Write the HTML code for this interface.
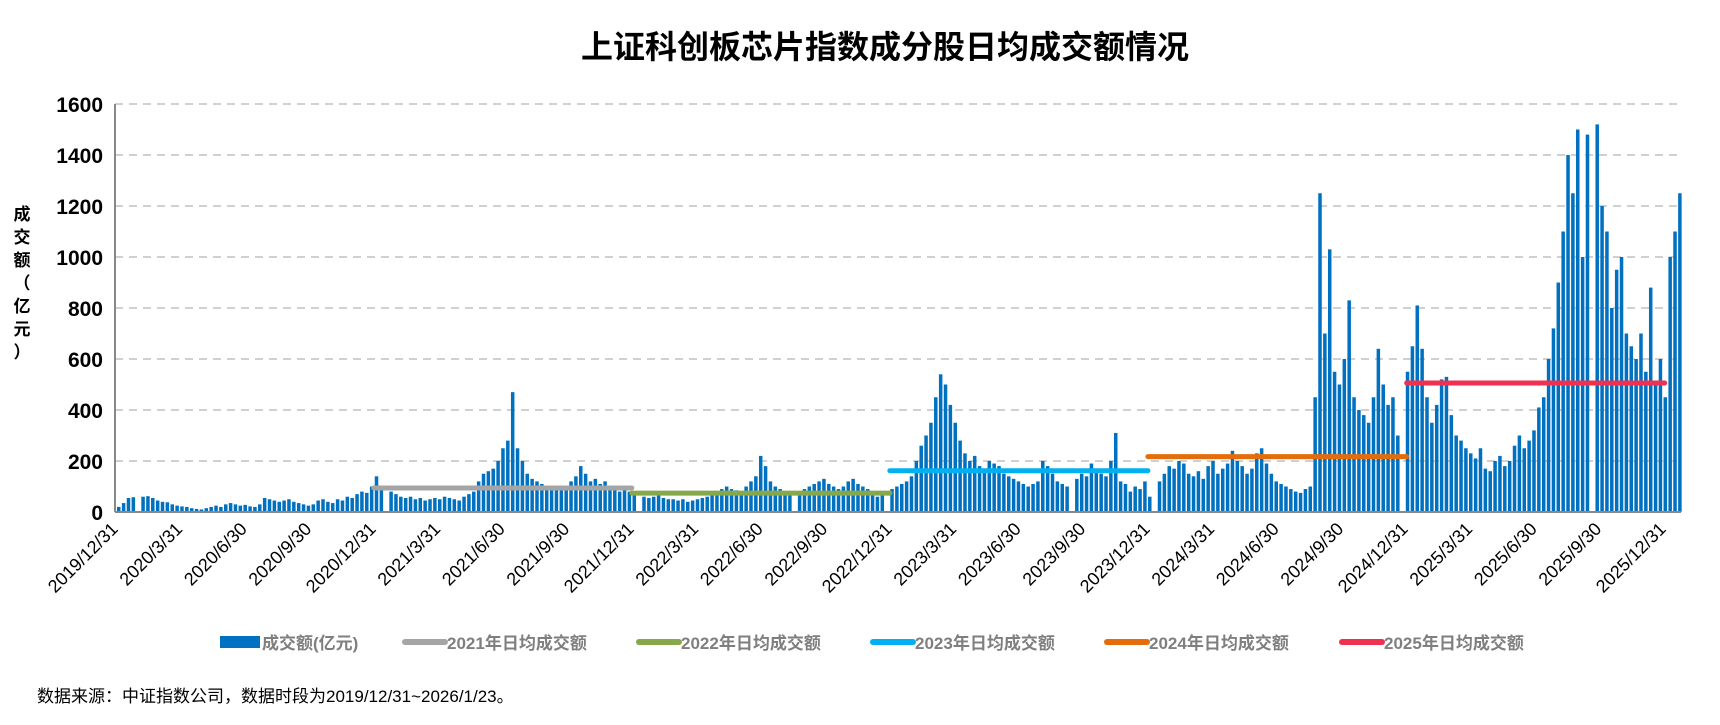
<!DOCTYPE html>
<html><head><meta charset="utf-8"><style>
body{margin:0;background:#fff;width:1720px;height:720px;overflow:hidden;font-family:"Liberation Sans","Noto Sans CJK SC",sans-serif;}
</style></head><body>
<svg id="chart" width="1720" height="720" xmlns="http://www.w3.org/2000/svg" font-family="Liberation Sans, Noto Sans CJK SC, sans-serif">
<text x="885" y="58" text-anchor="middle" font-size="32" font-weight="bold" fill="#000">上证科创板芯片指数成分股日均成交额情况</text>
<g id="yt" font-size="17" font-weight="bold" fill="#000" text-anchor="middle"></g>
<g id="grid"></g><g id="bars"></g><g id="avgs"></g><g id="axes"></g><g id="legend"></g>
<text x="37" y="702" font-size="17" fill="#000">数据来源：中证指数公司，数据时段为2019/12/31~2026/1/23。</text>
</svg>
<script>
const yTicks=[0,200,400,600,800,1000,1200,1400,1600];
const xLabels=["2019/12/31","2020/3/31","2020/6/30","2020/9/30","2020/12/31","2021/3/31","2021/6/30","2021/9/30","2021/12/31","2022/3/31","2022/6/30","2022/9/30","2022/12/31","2023/3/31","2023/6/30","2023/9/30","2023/12/31","2024/3/31","2024/6/30","2024/9/30","2024/12/31","2025/3/31","2025/6/30","2025/9/30","2025/12/31"];
const weeklyVolume=[
20,35,55,58,0,60,62,55,45,40,38,30,25,22,20,15,12,10,15,20,25,20,30,35,30,25,28,22,20,30,55,50,45,40,45,50,40,35,30,25,30,45,50,40,35,50,45,60,55,70,80,75,
100,140,90,0,80,70,60,55,60,50,55,45,50,55,50,60,55,50,45,60,70,80,120,150,160,170,200,250,280,470,250,200,150,130,120,110,100,95,90,85,100,120,140,180,150,120,130,110,120,100,90,80,
90,80,70,0,60,55,60,65,55,50,50,45,50,40,45,50,55,60,70,80,90,100,90,85,80,100,120,140,220,180,120,100,90,80,70,0,80,90,100,110,120,130,110,100,90,100,120,130,110,100,90,80,
60,80,0,90,100,110,120,140,200,260,300,350,450,540,500,420,350,280,230,200,220,180,170,200,190,180,150,140,130,120,110,100,110,120,200,180,150,120,110,100,0,130,150,140,190,170,150,140,200,310,120,110,
80,100,90,120,60,0,120,150,180,170,200,190,150,140,160,130,180,200,150,170,190,240,200,180,150,170,230,250,190,150,120,110,100,90,80,75,90,100,450,1250,700,1030,550,500,600,830,450,400,380,350,450,640,500,
420,450,300,0,550,650,810,640,450,350,420,520,530,380,300,280,250,230,210,250,170,160,200,220,180,200,260,300,250,280,320,410,450,600,720,900,1100,1400,1250,1500,1000,1480,0,1520,1200,1100,800,950,1000,700,650,600,700,550,880,500,600,450,
1000,1100,1250];
const avgYears=["2021","2022","2023","2024","2025"];
const avgValues=[94,74,162,217,506];
const avgStart=[366,731,1096,1461,1827];
const avgEnd=[731,1096,1461,1827,2192];
const avgColors=["#a5a5a5","#86a84a","#00b0f0","#e46c0a","#ef3050"];
const NS="http://www.w3.org/2000/svg";
const X0=115,X1=1681,Y0=512,Y1=104,YMAX=1600,DAYS=2215,QPX=1548/24;
const y=v=>Y0-(v/YMAX)*(Y0-Y1);
const xd=d=>X0+d*(X1-X0)/DAYS;
function mk(t,a,p){const e=document.createElementNS(NS,t);for(const k in a)e.setAttribute(k,a[k]);p.appendChild(e);return e;}
const grid=document.getElementById('grid'),axes=document.getElementById('axes');
yTicks.forEach(v=>{
 if(v>0){const l=mk('line',{x1:X0,x2:X1,y1:y(v),y2:y(v),stroke:'#d0d0d0','stroke-width':2,'stroke-dasharray':'8,6'},grid);
 
 }
 const t=mk('text',{x:103,y:y(v)+8,'text-anchor':'end','font-size':21,'font-weight':'bold',fill:'#000'},axes);t.textContent=v;
 
 
});
const bars=document.getElementById('bars');
const bw=(X1-X0)/weeklyVolume.length;
weeklyVolume.forEach((v,i)=>{if(v<=0)return;
 const r=mk('rect',{x:X0+2+i*bw,y:y(v),width:bw*0.72,height:Y0-y(v),fill:'#0070c0'},bars);
 
 
});
const avgs=document.getElementById('avgs');
avgValues.forEach((v,i)=>{
 const l=mk('line',{x1:xd(avgStart[i]),x2:xd(avgEnd[i]),y1:y(v),y2:y(v),stroke:avgColors[i],'stroke-width':5,'stroke-linecap':'round'},avgs);
 
 
});
const ax=mk('line',{x1:X0,x2:X0,y1:Y1,y2:Y0,stroke:'#888','stroke-width':2},axes);


const bx=mk('line',{x1:X0,x2:X1,y1:Y0,y2:Y0,stroke:'#888','stroke-width':2},axes);


xLabels.forEach((s,i)=>{const x=X0+i*QPX;
 const t=mk('text',{x:x+4,y:530,'text-anchor':'end','font-size':18,fill:'#000',transform:`rotate(-45 ${x+4} 530)`},axes);t.textContent=s;
 
 
});
const yt=document.getElementById('yt');
["成","交","额","（","亿","元","）"].forEach((c,i)=>{const t=mk('text',{x:22,y:220+i*23},yt);t.textContent=c;});
const lg=document.getElementById('legend');
const sw=mk('rect',{x:220,y:636,width:40,height:12,fill:'#0070c0'},lg);


const t0=mk('text',{x:262,y:649,'font-size':17,'font-weight':'bold',fill:'#7f7f7f'},lg);t0.textContent='成交额(亿元)';


const lx=[405,639,873,1107,1342];
avgYears.forEach((yr,i)=>{
 const l=mk('line',{x1:lx[i],x2:lx[i]+40,y1:642,y2:642,stroke:avgColors[i],'stroke-width':6,'stroke-linecap':'round'},lg);
 
 
 const t=mk('text',{x:lx[i]+42,y:649,'font-size':17,'font-weight':'bold',fill:'#7f7f7f'},lg);t.textContent=yr+'年日均成交额';
 
 
});
</script>
</body></html>
